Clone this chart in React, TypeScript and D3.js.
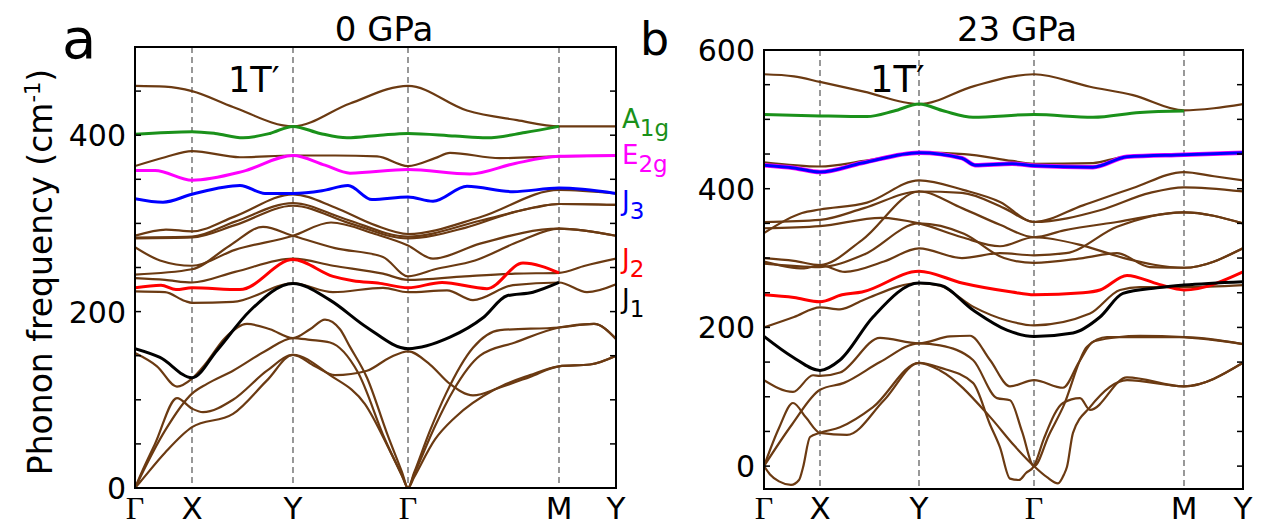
import React from 'react';
import * as d3 from 'd3';

type Pt = [number, number];

// ---------- high-symmetry path ----------
const symLabels = ['Γ', 'X', 'Y', 'Γ', 'M', 'Y'];
const aSymK = [0, 57, 158, 273, 424, 481];
const bSymK = [0, 56, 155, 270, 420, 479];

// ---------- panel a (0 GPa) bands: [k, frequency cm^-1] ----------
const a_top: Pt[] = [[0,456],[30,455],[57,450],[98,432],[158,410],[215,436],[273,456],[332,428],[382,417],[424,410],[481,410]];
const a_A1g: Pt[] = [[0,401],[57,404],[80,402],[108,397],[135,402],[158,410],[185,402],[212,397],[245,400],[273,402],[320,399],[352,397],[390,403],[424,410]];
const a_b380: Pt[] = [[0,365],[30,375],[57,382],[105,375],[158,377],[200,377],[242,376],[273,365],[300,374],[315,380],[365,374],[424,376],[481,377]];
const a_E2g: Pt[] = [[0,360],[20,360],[57,349],[108,359],[158,377],[190,366],[215,357],[273,361],[335,356],[380,368],[424,376],[481,377]];
const a_J3: Pt[] = [[0,328],[28,324],[57,333],[105,343],[130,334],[158,334],[187,337],[213,343],[237,327],[273,330],[298,325],[332,342],[378,336],[424,340],[481,334]];
const a_h1: Pt[] = [[0,286],[31,293],[57,291],[100,308],[158,333],[200,318],[240,298],[273,288],[345,307],[424,338],[481,334]];
const a_h2: Pt[] = [[0,284],[57,285],[100,302],[158,323],[210,305],[273,285],[345,303],[400,318],[424,322],[481,321]];
const a_h3: Pt[] = [[0,283],[57,284],[100,298],[158,320],[215,300],[273,283],[330,295],[380,313],[424,322],[481,321]];
const a_h4: Pt[] = [[0,273],[25,258],[57,252],[100,270],[158,286],[196,301],[240,288],[273,275],[298,260],[345,277],[424,294],[481,286]];
const a_h5: Pt[] = [[0,242],[57,248],[95,275],[128,296],[158,286],[200,272],[248,262],[273,240],[300,248],[340,258],[385,280],[424,294],[481,286]];
const a_h6: Pt[] = [[0,238],[30,236],[57,233],[100,245],[158,260],[198,252],[248,243],[273,236],[330,240],[380,243],[424,244],[450,252],[481,260]];
const a_J2: Pt[] = [[0,227],[26,230],[41,225],[57,227],[105,225],[158,259],[198,240],[218,235],[245,232],[273,227],[307,233],[352,226],[388,255],[424,244]];
const a_g: Pt[] = [[0,223],[30,222],[50,212],[57,210],[98,211],[158,232],[198,222],[248,227],[273,222],[312,224],[338,213],[378,230],[424,233],[452,222],[481,231]];
const a_J1: Pt[] = [[0,158],[25,148],[57,125],[82,156],[115,201],[158,232],[195,213],[232,182],[273,158],[315,171],[348,193],[372,218],[398,222],[424,233]];
const a_l1: Pt[] = [[0,153],[22,138],[42,115],[57,124],[70,140],[90,170],[112,186],[135,180],[158,170],[175,180],[190,191],[205,180],[215,160],[232,125],[252,62],[267,18],[273,0],[279,17],[295,65],[311,107],[338,159],[365,179],[424,182],[459,186],[481,169]];
const a_l2: Pt[] = [[0,0],[6,14],[30,65],[57,107],[72,118],[98,133],[130,155],[158,170],[175,168],[195,165],[223,131],[250,55],[267,14],[273,0],[279,15],[300,70],[318,110],[345,150],[380,165],[424,182],[459,186],[481,169]];
const a_l3: Pt[] = [[0,0],[6,16],[20,50],[42,102],[57,90],[68,86],[98,100],[132,133],[158,151],[195,128],[230,95],[255,42],[268,12],[273,0],[279,12],[300,55],[320,80],[360,112],[395,128],[424,138],[455,140],[481,150]];
const a_l4: Pt[] = [[0,0],[6,8],[30,40],[57,69],[98,84],[132,122],[158,151],[180,138],[200,128],[232,133],[255,148],[273,155],[295,140],[315,118],[338,105],[365,114],[395,126],[424,138],[455,140],[481,150]];

// ---------- panel b (23 GPa) bands ----------
const b_top: Pt[] = [[0,565],[30,562],[56,554],[100,540],[155,522],[210,548],[270,565],[326,547],[369,535],[420,513],[450,516],[479,522]];
const b_A1g: Pt[] = [[0,507],[56,505],[103,504],[130,512],[155,522],[180,512],[209,503],[270,507],[329,503],[376,510],[420,512]];
const b_b2: Pt[] = [[0,438],[56,432],[100,440],[155,452],[200,450],[248,440],[270,436],[329,437],[360,446],[420,449],[479,452]];
const b_J3: Pt[] = [[0,434],[30,430],[56,424],[98,437],[155,452],[198,444],[211,434],[248,436],[271,433],[329,431],[363,446],[420,449],[479,452]];
const b_q1: Pt[] = [[0,336],[38,365],[56,370],[103,380],[155,412],[200,398],[236,381],[270,352],[319,376],[369,401],[420,424],[450,418],[479,412]];
const b_q2: Pt[] = [[0,352],[56,355],[100,372],[155,396],[198,394],[240,372],[270,352],[336,369],[386,394],[420,402],[479,396]];
const b_q3: Pt[] = [[0,343],[56,346],[117,358],[155,350],[198,330],[236,317],[270,330],[319,318],[360,300],[420,286],[479,314]];
const b_q4: Pt[] = [[0,300],[30,296],[56,290],[98,326],[155,396],[198,372],[236,348],[270,330],[300,340],[353,352],[420,366],[479,350]];
const b_q5: Pt[] = [[0,295],[40,285],[56,290],[81,280],[120,295],[155,314],[198,300],[236,307],[270,304],[302,307],[353,345],[420,366],[479,350]];
const b_q6: Pt[] = [[0,292],[56,287],[100,305],[155,350],[200,335],[240,300],[270,293],[319,300],[353,307],[386,287],[420,286],[479,314]];
const b_J2: Pt[] = [[0,247],[30,243],[56,237],[78,247],[98,251],[155,281],[198,264],[248,251],[270,247],[319,250],[336,254],[363,275],[395,262],[420,254],[479,280]];
const b_J1: Pt[] = [[0,187],[29,157],[56,138],[76,153],[109,215],[155,264],[176,261],[209,225],[243,196],[270,187],[309,192],[336,215],[359,249],[393,257],[420,261],[479,266]];
const b_k: Pt[] = [[0,200],[30,215],[56,229],[76,226],[100,240],[155,264],[176,260],[209,230],[243,210],[270,203],[326,220],[356,254],[376,258],[420,258],[479,261]];
const b_f: Pt[] = [[0,124],[29,107],[49,131],[56,130],[76,135],[116,185],[155,177],[186,187],[206,188],[226,153],[246,115],[270,124],[299,113],[315,150],[330,180],[376,188],[420,186],[479,176]];
const b_c2: Pt[] = [[0,0],[28,60],[56,110],[80,120],[116,150],[155,177],[176,174],[209,153],[233,98],[246,95],[258,50],[270,0],[285,45],[299,85],[323,172],[343,186],[420,186],[479,176]];
const b_c1: Pt[] = [[0,0],[15,55],[29,91],[42,70],[56,48],[83,45],[120,95],[155,149],[176,142],[209,120],[226,60],[236,27],[246,-18],[255,-20],[262,-10],[270,0],[280,40],[299,91],[316,98],[326,81],[363,128],[420,115],[479,149]];
const b_c3: Pt[] = [[0,0],[6,-12],[15,-22],[27,-27],[35,-20],[39,-2],[46,42],[56,48],[76,56],[109,85],[155,149],[176,138],[226,71],[250,30],[270,0],[283,-16],[294,-25],[300,-12],[303,-1],[309,48],[326,85],[363,124],[420,115],[479,149]];

// ---------- ticks ----------
const aTicks = d3.range(0, 501, 50);
const aTickLabels = [0, 200, 400];
const bTicks = d3.range(0, 601, 50);
const bTickLabels = [0, 200, 400, 600];

const BROWN = '#6b3a12';
const GREEN = '#1a911a';
const MAGENTA = '#ff00ff';
const BLUE = '#0000ff';
const RED = '#ff0000';
const BLACK = '#000000';

type Band = { data: Pt[]; color: string; width: number };

interface PanelProps {
  id: string;
  left: number; right: number; top: number; bottom: number;
  kMax: number; fMin: number; fMax: number;
  symK: number[];
  bands: Band[];
  ticks: number[];
  tickLabels: number[];
}

function Panel(p: PanelProps) {
  const x = d3.scaleLinear().domain([0, p.kMax]).range([p.left, p.right]);
  const y = d3.scaleLinear().domain([p.fMin, p.fMax]).range([p.bottom, p.top]);
  const line = d3.line<Pt>().x(d => x(d[0])).y(d => y(d[1])).curve(d3.curveMonotoneX);
  return (
    <g>
      <defs>
        <clipPath id={`clip-${p.id}`}>
          <rect x={p.left} y={p.top} width={p.right - p.left} height={p.bottom - p.top} />
        </clipPath>
      </defs>
      {p.symK.slice(1, -1).map((k, i) => (
        <line key={i} x1={x(k)} x2={x(k)} y1={p.top} y2={p.bottom} stroke="#555" strokeWidth={1.2} strokeDasharray="6,4" />
      ))}
      <g clipPath={`url(#clip-${p.id})`}>
        {p.bands.map((b, i) => (
          <path key={i} d={line(b.data) || ''} fill="none" stroke={b.color} strokeWidth={b.width} strokeLinejoin="round" />
        ))}
      </g>
      {p.ticks.map(t => (
        <g key={t}>
          <line x1={p.left} x2={p.left + 6} y1={y(t)} y2={y(t)} stroke="#000" strokeWidth={1.5} />
          <line x1={p.right - 6} x2={p.right} y1={y(t)} y2={y(t)} stroke="#000" strokeWidth={1.5} />
        </g>
      ))}
      {p.tickLabels.map(t => (
        <text key={t} x={p.left - 9} y={y(t) + 11} textAnchor="end" fontSize={30} fill="#000">{t}</text>
      ))}
      <rect x={p.left} y={p.top} width={p.right - p.left} height={p.bottom - p.top} fill="none" stroke="#000" strokeWidth={2} />
      {p.symK.map((k, i) => (
        <text key={i} x={x(k)} y={519} textAnchor="middle" fill="#000"
          fontFamily={symLabels[i] === 'Γ' ? 'Liberation Serif' : 'DejaVu Sans'}
          fontSize={symLabels[i] === 'Γ' ? 32 : 31}>{symLabels[i]}</text>
      ))}
    </g>
  );
}

export default function App() {
  const aBands: Band[] = [
    ...[a_top, a_b380, a_h1, a_h2, a_h3, a_h4, a_h5, a_h6, a_g, a_l1, a_l2, a_l3, a_l4].map(d => ({ data: d, color: BROWN, width: 2.2 })),
    { data: a_A1g, color: GREEN, width: 3 },
    { data: a_E2g, color: MAGENTA, width: 3 },
    { data: a_J3, color: BLUE, width: 3 },
    { data: a_J2, color: RED, width: 3 },
    { data: a_J1, color: BLACK, width: 3 },
  ];
  const bBands: Band[] = [
    ...[b_top, b_b2, b_q1, b_q2, b_q3, b_q4, b_q5, b_q6, b_k, b_f, b_c2, b_c1, b_c3].map(d => ({ data: d, color: BROWN, width: 2.2 })),
    { data: b_A1g, color: GREEN, width: 3 },
    { data: b_J3, color: MAGENTA, width: 4.5 },
    { data: b_J3, color: BLUE, width: 3 },
    { data: b_J2, color: RED, width: 3 },
    { data: b_J1, color: BLACK, width: 3 },
  ];
  return (
    <svg width={1261} height={529} style={{ position: 'absolute', left: 0, top: 0, background: '#fff' }} fontFamily="DejaVu Sans">
      <rect x={0} y={0} width={1261} height={529} fill="#fff" />
      <Panel id="a" left={135} right={616} top={47} bottom={488} kMax={481} fMin={0} fMax={500}
        symK={aSymK} bands={aBands} ticks={aTicks} tickLabels={aTickLabels} />
      <Panel id="b" left={764} right={1243} top={50} bottom={489} kMax={479} fMin={-33} fMax={600}
        symK={bSymK} bands={bBands} ticks={bTicks} tickLabels={bTickLabels} />

      <text x={62} y={58} fontSize={56} fill="#000">a</text>
      <text x={640} y={55} fontSize={46} fill="#000">b</text>
      <text x={384} y={41} textAnchor="middle" fontSize={34} fill="#000">0 GPa</text>
      <text x={1017} y={41} textAnchor="middle" fontSize={34} fill="#000">23 GPa</text>
      <text x={228} y={92} fontSize={35} fill="#000">1T′</text>
      <text x={870} y={92} fontSize={37} fill="#000">1T′</text>

      <text transform="translate(52,272) rotate(-90)" textAnchor="middle" fontSize={33} fill="#000">
        Phonon frequency (cm<tspan dy={-12} fontSize={21}>-1</tspan><tspan dy={12}>)</tspan>
      </text>

      <text x={622} y={128} fontSize={26} fill={GREEN}>A<tspan dy={8} fontSize={23}>1g</tspan></text>
      <text x={622} y={164} fontSize={26} fill={MAGENTA}>E<tspan dy={8} fontSize={23}>2g</tspan></text>
      <text x={622} y={210} fontSize={26} fill={BLUE}>J<tspan dy={9} fontSize={23}>3</tspan></text>
      <text x={622} y={268} fontSize={26} fill={RED}>J<tspan dy={9} fontSize={23}>2</tspan></text>
      <text x={622} y={308} fontSize={26} fill={BLACK}>J<tspan dy={9} fontSize={23}>1</tspan></text>
    </svg>
  );
}
